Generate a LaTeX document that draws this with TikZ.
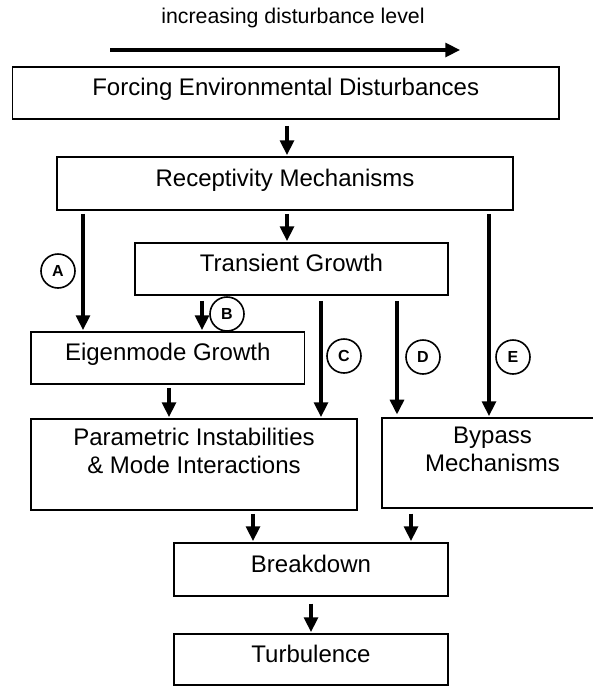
\documentclass[tikz,border=0pt]{standalone}
\usepackage{fontspec}
\setmainfont{Liberation Sans}
\usetikzlibrary{arrows.meta,calc}
\def\px{0.75pt}
\begin{document}
\begin{tikzpicture}[x=0.75pt,y=-0.75pt,
  box/.style={draw=black, line width=1.4pt, inner sep=0pt, align=center,
    font=\fontsize{18pt}{21pt}\selectfont, text height=13pt, text depth=9.25pt},
  twoline/.style={draw=black, line width=1.4pt, inner sep=0pt, align=center,
    font=\fontsize{18pt}{21pt}\selectfont},
  arr/.style={line width=2.3pt, -{Triangle[width=10.5pt,length=11pt]}, shorten >=0.8pt},
  tag/.style={draw=black, circle, line width=1.2pt, minimum size=25.5pt, inner sep=0pt,
    font=\fontsize{12pt}{14pt}\selectfont\bfseries}]
\useasboundingbox (0,0) rectangle (593,686);

% title and level arrow
\node[anchor=base, inner sep=0pt, font=\fontsize{16pt}{19pt}\selectfont] (title) at (293,23.5) {increasing disturbance level};
\coordinate (bs) at (110,50);
\coordinate (be) at (460,50);
\draw[arr, shorten >=0pt] (bs) -- (be);

% boxes
\node[box, minimum width=546.5*\px, minimum height=52*\px] (fr) at (285.75,93) {Forcing Environmental Disturbances};
\node[box, minimum width=456*\px, minimum height=53*\px] (rec) at (285,183.5) {Receptivity Mechanisms};
\node[box, minimum width=313*\px, minimum height=52*\px] (tg) at (291.5,269) {Transient Growth};
\node[box, minimum width=273.5*\px, minimum height=52*\px] (eig) at (167.75,358) {Eigenmode Growth};
\node[twoline, minimum width=326*\px, minimum height=91*\px] (par) at (194,464.5) {Parametric Instabilities\\\& Mode Interactions\\\mbox{}};
\node[twoline, minimum width=221*\px, minimum height=90*\px] (byp) at (492.5,463) {Bypass\\Mechanisms\\\mbox{}};
\node[box, minimum width=274*\px, minimum height=53*\px] (brk) at (311,569.5) {Breakdown};
\node[box, minimum width=274*\px, minimum height=51*\px] (tur) at (311,659.5) {Turbulence};

% arrow x positions
\coordinate (x1) at (287,0);
\coordinate (xA) at (83,0);
\coordinate (xB) at (202,0);
\coordinate (xC) at (321,0);
\coordinate (xD) at (397,0);
\coordinate (xE) at (489,0);
\coordinate (xEP) at (169,0);
\coordinate (xPB) at (253,0);
\coordinate (xBB) at (411,0);

% connectors
\draw[arr, shorten <=4.5pt] (x1 |- fr.south) -- (x1 |- rec.north);
\draw[arr, shorten <=2.25pt] (x1 |- rec.south) -- (x1 |- tg.north);
\draw[arr, shorten <=2.25pt] (xA |- rec.south) -- (xA |- eig.north);
\draw[arr, shorten <=2.25pt] (xE |- rec.south) -- (xE |- byp.north);
\draw[arr, shorten <=3.75pt] (xB |- tg.south) -- (xB |- eig.north);
\draw[arr, shorten <=3.75pt] (xC |- tg.south) -- (xC |- par.north);
\draw[arr, shorten <=3.75pt, shorten >=2pt] (xD |- tg.south) -- (xD |- byp.north);
\draw[arr, shorten <=2.25pt] (xEP |- eig.south) -- (xEP |- par.north);
\draw[arr, shorten <=2.25pt] (xPB |- par.south) -- (xPB |- brk.north);
\draw[arr, shorten <=3.5pt] (xBB |- byp.south) -- (xBB |- brk.north);
\draw[arr, shorten <=5pt] (brk.south) -- (tur.north);

% path labels
\node[tag] (tA) at (58,271) {A};
\node[tag] (tB) at (227,314) {B};
\node[tag] (tC) at (344,356) {C};
\node[tag] (tD) at (423,357) {D};
\node[tag] (tE) at (513,357) {E};
\end{tikzpicture}
\end{document}
